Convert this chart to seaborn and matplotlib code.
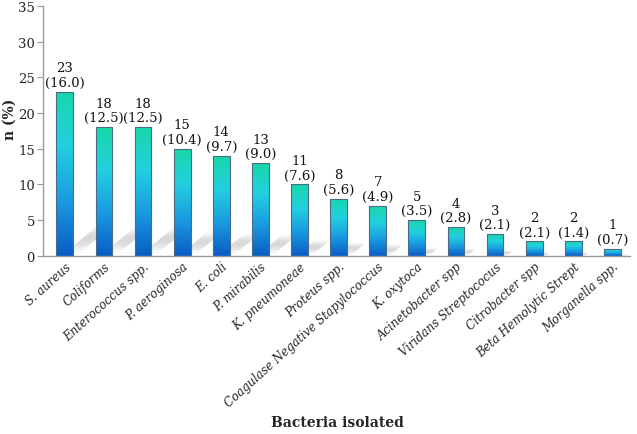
import numpy as np
import pandas as pd
import matplotlib
matplotlib.use("Agg")
import matplotlib.pyplot as plt
import seaborn as sns
from matplotlib.colors import LinearSegmentedColormap
from matplotlib.patches import Polygon

bacteria = ["S. aureus", "Coliforms", "Enterococcus spp.", "P. aeroginosa", "E. coli",
            "P. mirabilis", "K. pneumoneae", "Proteus spp.",
            "Coagulase Negative Stapylococcus", "K. oxytoca", "Acinetobacter spp",
            "Viridans Streptococus", "Citrobacter spp", "Beta Hemolytic Strept",
            "Morganella spp."]
heights = [23, 18, 18, 15, 14, 13, 10, 8, 7, 5, 4, 3, 2, 2, 1]
counts = [23, 18, 18, 15, 14, 13, 11, 8, 7, 5, 4, 3, 2, 2, 1]
percents = [16.0, 12.5, 12.5, 10.4, 9.7, 9.0, 7.6, 5.6, 4.9, 3.5, 2.8, 2.1, 2.1, 1.4, 0.7]

df = pd.DataFrame({"bacteria": bacteria, "n": heights})

sns.set_style("white")
plt.rcParams["font.family"] = ["DejaVu Serif"]

fig = plt.figure(figsize=(6.37, 4.35), dpi=100)
ax = fig.add_axes([0.068, 0.41, 0.921, 0.574])

sns.barplot(data=df, x="bacteria", y="n", width=0.43, color="#1a8fd8",
            edgecolor="#4a6a8a", linewidth=0.8, ax=ax)

grad = LinearSegmentedColormap.from_list("g", ["#0a5cc4", "#1a9ae0", "#22d0e0", "#17d8a8"])
img = np.linspace(0, 1, 256).reshape(-1, 1)

# soft shadow streaks behind bars
t = np.linspace(0, 1, 128)
shade = np.zeros((128, 1, 4))
shade[..., :3] = 0.6
shade[:, 0, 3] = 0.38 * np.sin(np.pi * t) ** 2

for p in list(ax.patches):
    x0, y0 = p.get_x(), p.get_y()
    w, h = p.get_width(), p.get_height()
    hh = min(h * 0.25, 5.0)
    s = hh * 0.22
    poly = Polygon([(x0 + w * 0.3, 0), (x0 + w * 1.2, 0), (x0 + w * 1.2 + s, hh),
                    (x0 + w * 0.3 + s, hh)], closed=True, facecolor="none",
                   edgecolor="none", transform=ax.transData)
    ax.add_patch(poly)
    sh = ax.imshow(shade, origin="lower", aspect="auto",
                   extent=[x0, x0 + w * 1.2 + s, 0, hh], zorder=1)
    sh.set_clip_path(poly)

    im = ax.imshow(img, cmap=grad, origin="lower", aspect="auto",
                   extent=[x0, x0 + w, y0, y0 + h], zorder=2)
    im.set_clip_path(p)
    p.set_facecolor("none")
    p.set_zorder(3)

for i, (h, c, pc) in enumerate(zip(heights, counts, percents)):
    ax.text(i, h + 0.4, f"{c}\n({pc:.1f})", ha="center", va="bottom",
            fontsize=9.5, linespacing=1.15, color="#111111")

ax.set_xlim(-0.55, 14.45)
ax.set_ylim(0, 35)
ax.set_yticks(range(0, 36, 5))
ax.tick_params(axis="y", labelsize=9.5, length=4, color="#999999", left=True, pad=2)
ax.tick_params(axis="x", length=0, pad=3)
ax.set_xticks(range(len(bacteria)))
ax.set_xticklabels(bacteria, rotation=42, ha="right", rotation_mode="anchor",
                   fontsize=8.5, style="italic")
for s in ["top", "right"]:
    ax.spines[s].set_visible(False)
for s in ["left", "bottom"]:
    ax.spines[s].set_color("#999999")
    ax.spines[s].set_linewidth(1)
ax.set_ylabel("n (%)", fontsize=10, fontweight="bold")
ax.yaxis.set_label_coords(-0.046, 0.55)
ax.set_xlabel("")
fig.text(0.53, 0.012, "Bacteria isolated", ha="center", va="bottom",
         fontsize=10, fontweight="bold")

fig.savefig("out.png", dpi=100)
